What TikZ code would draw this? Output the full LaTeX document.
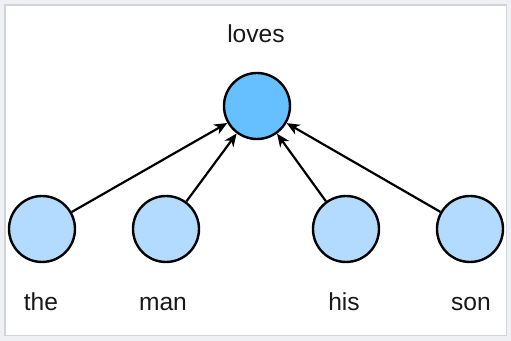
\documentclass[tikz,border=0pt]{standalone}
\usepackage{fontspec}
\setmainfont{Liberation Sans}
\usepackage{xcolor}
\usepackage{tikz}
\usetikzlibrary{positioning,shapes,arrows.meta,calc}

\definecolor{rootblue}{RGB}{102,191,255}
\definecolor{leafblue}{RGB}{179,219,255}
\definecolor{framegray}{RGB}{208,211,216}
\definecolor{bandgray}{RGB}{238,240,243}

\tikzset{
    word/.style={circle, draw=black, line width=1.2pt, minimum size=33pt, inner sep=0pt},
    wordlabel/.style={anchor=base, font=\fontsize{12.3}{14}\selectfont, text=black!90},
    dep/.style={-{Stealth[length=6.5pt, width=5.5pt, inset=2pt]}, line width=1.1pt}
}

\begin{document}
\begin{tikzpicture}[x=0.5pt, y=-0.5pt]
    \useasboundingbox (0,0) rectangle (511,341);
    \fill[bandgray] (0,0) rectangle (511,341);
    \draw[framegray, fill=white, line width=0.8pt] (5,5) rectangle (506.5,335.5);

    % head word
    \node[word, fill=rootblue] (loves) at (257,106) {};
    \node[wordlabel] (lovestext) at (256,43) {loves};

    % dependents
    \node[word, fill=leafblue] (the) at (42,229) {};
    \node[word, fill=leafblue] (man) at (166,229) {};
    \node[word, fill=leafblue] (his) at (346,229) {};
    \node[word, fill=leafblue] (son) at (470,229) {};

    \foreach \w/\x in {the/41, man/163, his/344, son/471}
        \node[wordlabel] (\w text) at (\x,311) {\w};

    \foreach \w in {the, man, his, son}
        \draw[dep] (\w) -- (loves);
\end{tikzpicture}
\end{document}
